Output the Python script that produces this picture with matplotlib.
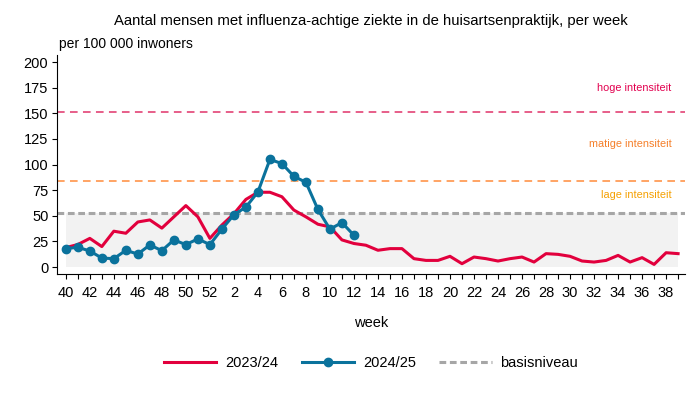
import matplotlib
matplotlib.use("Agg")
import matplotlib.pyplot as plt
from matplotlib.lines import Line2D

plt.rcParams["font.family"] = ["Liberation Sans", "DejaVu Sans"]

# --- data ---
weeks = list(range(40, 53)) + list(range(1, 40))

ili_2023 = [19, 22, 28, 20, 35, 33, 44, 46, 38, 49, 60, 49, 28, 41, 52, 66, 73, 73, 68.6,
            55.6, 49, 41.8, 39.2, 26.5, 23, 21.3, 16.4, 18, 18, 8.2, 6.5, 6.5, 10.5, 3.3,
            9.8, 8.2, 5.9, 8.2, 9.8, 4.9, 13.1, 12.4, 10.5, 5.9, 4.9, 6.5, 11.4, 4.9, 9.2,
            2.6, 14, 13.1]

ili_2024 = [18, 19.3, 15.7, 8.8, 8.2, 16.3, 12.7, 21.6, 16, 26.5, 21.9, 27.5, 21.9, 37,
            51, 58.5, 73.2, 105, 101, 88.5, 82.7, 56.2, 37, 43.4, 31]

basisniveau = 53
drempel_matig = 83.5
drempel_hoog = 151.5

c_red = "#E2003D"
c_blue = "#0A729C"
c_grey = "#A6A6A6"
c_hoog = "#E0336A"
c_matig = "#FF8C3A"

x_all = list(range(len(weeks)))
x_2024 = list(range(len(ili_2024)))

fig = plt.figure(figsize=(7, 3.95), dpi=100)
ax = fig.add_axes([0.082, 0.307, 0.897, 0.554])

# achtergrondband onder het basisniveau
ax.fill_between(x_all, 0, basisniveau, color="#F2F2F2", linewidth=0, zorder=1)

ax.axhline(drempel_hoog, color=c_hoog, linestyle=(0, (5, 3.5)), linewidth=1.1, zorder=2)
ax.axhline(drempel_matig, color=c_matig, linestyle=(0, (5, 3.5)), linewidth=1.1, zorder=2)
ax.axhline(basisniveau, color=c_grey, linestyle=(0, (2.2, 1.2)), linewidth=2.2, zorder=2)

ax.plot(x_all, ili_2023, color=c_red, linewidth=2.2, zorder=3)
ax.plot(x_2024, ili_2024, color=c_blue, linewidth=2.2, marker="o", markersize=6, zorder=4)

ax.text(50.45, 175, "hoge intensiteit", color="#E2004F", fontsize=7.8, ha="right", va="center")
ax.text(50.45, 120.5, "matige intensiteit", color="#F57F29", fontsize=7.8, ha="right", va="center")
ax.text(50.45, 70.5, "lage intensiteit", color="#F5A000", fontsize=7.8, ha="right", va="center")

ax.set_xlim(-0.7, 51.6)
ax.set_ylim(-6.5, 207)
ax.set_yticks(range(0, 201, 25))
ax.set_xticks(x_all)
ax.set_xticklabels([str(w) if w % 2 == 0 else "" for w in weeks])
ax.tick_params(axis="both", labelsize=10.5, length=3.5, width=0.8, pad=3)
ax.tick_params(axis="x", pad=5.5)

for side in ["top", "right"]:
    ax.spines[side].set_visible(False)
for side in ["left", "bottom"]:
    ax.spines[side].set_linewidth(0.8)

ax.set_xlabel("week", fontsize=10.5, labelpad=11)

fig.text(0.53, 0.948, "Aantal mensen met influenza-achtige ziekte in de huisartsenpraktijk, per week",
         fontsize=10.7, ha="center", va="center")
fig.text(0.084, 0.889, "per 100 000 inwoners", fontsize=10, ha="left", va="center")

handles = [
    Line2D([], [], color=c_red, linewidth=2.2),
    Line2D([], [], color=c_blue, linewidth=2.2, marker="o", markersize=6),
    Line2D([], [], color=c_grey, linewidth=2.2, linestyle=(0, (2.2, 1.2))),
]
fig.legend(handles, ["2023/24", "2024/25", "basisniveau"], loc="center",
           bbox_to_anchor=(0.53, 0.082), ncol=3, frameon=False, fontsize=10.5,
           handlelength=3.6, handletextpad=0.6, columnspacing=1.6)

fig.savefig("out.png", dpi=100)
